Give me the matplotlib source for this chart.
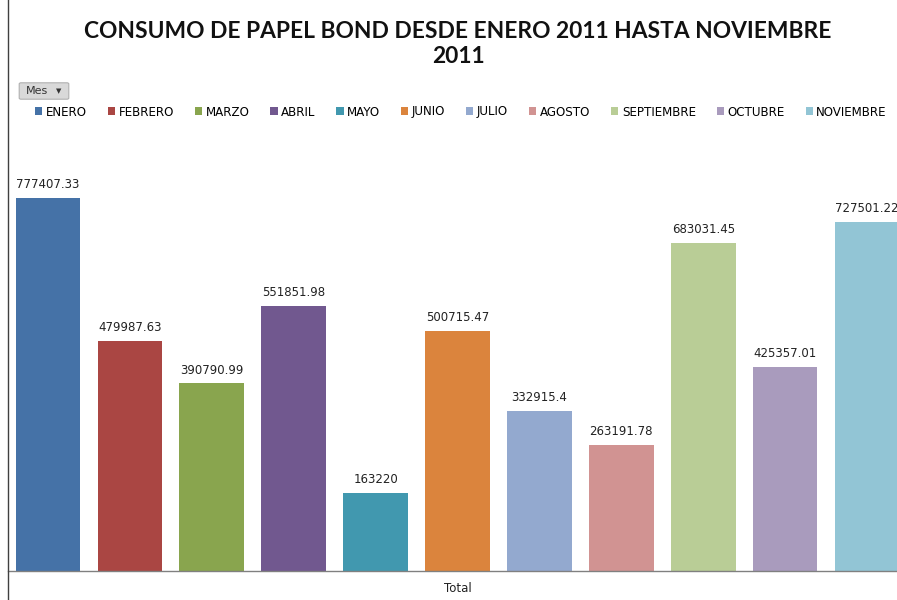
import matplotlib
matplotlib.use("Agg")
import matplotlib.pyplot as plt
from matplotlib.patches import FancyBboxPatch, Patch
from matplotlib.lines import Line2D

months = ["ENERO", "FEBRERO", "MARZO", "ABRIL", "MAYO", "JUNIO", "JULIO",
          "AGOSTO", "SEPTIEMBRE", "OCTUBRE", "NOVIEMBRE"]
values = [777407.33, 479987.63, 390790.99, 551851.98, 163220, 500715.47,
          332915.4, 263191.78, 683031.45, 425357.01, 727501.22]
labels = ["777407.33", "479987.63", "390790.99", "551851.98", "163220",
          "500715.47", "332915.4", "263191.78", "683031.45", "425357.01",
          "727501.22"]
colors = ["#4572A7", "#AA4643", "#89A54E", "#71588F", "#4198AF", "#DB843D",
          "#93A9CF", "#D19392", "#B9CD96", "#A99BBD", "#92C5D5"]
title = "CONSUMO DE PAPEL BOND DESDE ENERO 2011 HASTA NOVIEMBRE\n2011"

W, H = 897, 600
fig = plt.figure(figsize=(W / 100, H / 100), dpi=100)
fig.patch.set_facecolor("white")

# axes in pixel coords: left 8, right 897, bottom y=571, top y=140
ax = fig.add_axes([8 / W, (H - 571) / H, (W - 8) / W, (571 - 140) / H])
pitch = 81.9
xl = -(48 - 8) / pitch
xr = (897 - 48) / pitch
ax.set_xlim(xl, xr)
ymax = (571 - 140) / (373 / 777407.33)
ax.set_ylim(0, ymax)

x = list(range(len(months)))
bars = ax.bar(x, values, width=0.79, color=colors, label=months)
for xi, v, lab in zip(x, values, labels):
    ax.annotate(lab, (xi, v), xytext=(0, 5), textcoords="offset points",
                ha="center", va="bottom", fontsize=8.5, color="#222222",
                annotation_clip=False)

for s in ["top", "right"]:
    ax.spines[s].set_visible(False)
ax.spines["left"].set_visible(False)
ax.spines["bottom"].set_color("#808080")
ax.spines["bottom"].set_linewidth(1.0)
ax.set_xticks([])
ax.set_yticks([])

# left border full height
fig.add_artist(Line2D([8 / W, 8 / W], [0, 1], color="#404040", lw=1.0))

fig.text(458 / W, 1 - 44 / H, title, ha="center", va="center",
         fontsize=16.4, fontweight="bold", family="Lato", linespacing=1.25,
         color="#111111")

fig.text(458 / W, 1 - 588 / H, "Total", ha="center", va="center",
         fontsize=8.5, color="#222222")

# "Mes" button
btn = FancyBboxPatch((21 / W, 1 - 98 / H), 46 / W, 14 / H,
                     boxstyle="round,pad=0.002", transform=fig.transFigure,
                     facecolor="#d9d9d9", edgecolor="#b0b0b0", lw=0.8)
fig.add_artist(btn)
fig.text(26 / W, 1 - 91 / H, "Mes", ha="left", va="center", fontsize=8,
         color="#333333")
fig.text(59 / W, 1 - 91 / H, "\u25BC", ha="center", va="center",
         fontsize=5, color="#333333")

handles = [Patch(facecolor=c, edgecolor="none") for c in colors]
fig.legend(handles, months, loc="center", bbox_to_anchor=(461 / W, 1 - 112 / H),
           ncol=11, frameon=False, fontsize=8.6, handlelength=0.6,
           handleheight=0.6, handletextpad=0.3, columnspacing=1.75)

fig.savefig("out.png", dpi=100)
